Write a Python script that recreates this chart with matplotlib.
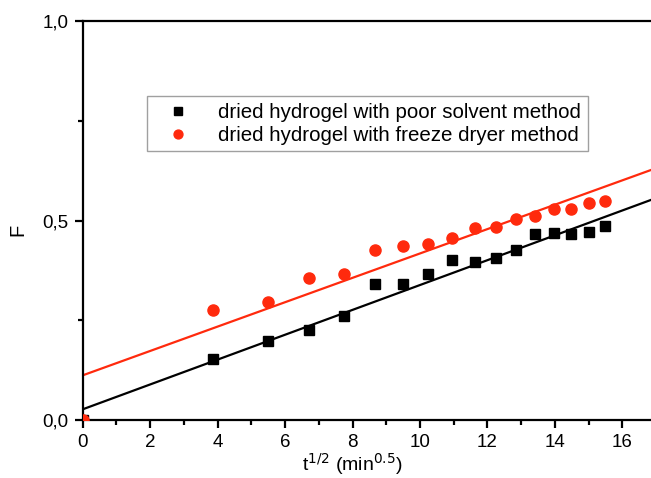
import numpy as np
import matplotlib
matplotlib.use("Agg")
import matplotlib.pyplot as plt
from matplotlib.ticker import MultipleLocator, FuncFormatter

plt.rcParams['font.family'] = ['Liberation Sans', 'DejaVu Sans']

# data (t^1/2 in min^0.5, fraction released F)
x_vals = [0.0, 3.87, 5.48, 6.71, 7.75, 8.66, 9.49, 10.25, 10.95, 11.62, 12.25,
          12.85, 13.42, 13.96, 14.49, 15.0, 15.49]
poor_solvent = [0.0, 0.153, 0.198, 0.225, 0.261, 0.34, 0.34, 0.367, 0.401, 0.397, 0.407,
                0.427, 0.465, 0.468, 0.466, 0.471, 0.485]
freeze_dryer = [0.0, 0.277, 0.297, 0.355, 0.365, 0.427, 0.435, 0.442, 0.455, 0.48, 0.483,
                0.505, 0.512, 0.53, 0.53, 0.545, 0.548]
# fitted lines (intercept, slope)
poor_fit = [0.0275, 0.0311]
freeze_fit = [0.1125, 0.0305]

labels = ["dried hydrogel with poor solvent method",
          "dried hydrogel with freeze dryer method"]

fig = plt.figure(figsize=(6.51, 4.78), dpi=100)
ax = fig.add_axes([0.127, 0.1207, 0.873, 0.836])

xl = np.array([0, 17.5])
ax.plot(xl, poor_fit[0] + poor_fit[1] * xl, color='black', lw=1.6, zorder=2)
ax.plot(xl, freeze_fit[0] + freeze_fit[1] * xl, color='#ff2a0d', lw=1.6, zorder=2)

ax.plot(x_vals, poor_solvent, 's', color='black', ms=6.5, ls='none', label=labels[0], zorder=3)
ax.plot(x_vals, freeze_dryer, 'o', color='#ff2a0d', ms=8, ls='none', label=labels[1], zorder=3)

ax.set_xlim(0, 16.85)
ax.set_ylim(0, 1.0)
ax.spines['right'].set_visible(False)
for s in ['top', 'left', 'bottom']:
    ax.spines[s].set_linewidth(1.6)

ax.xaxis.set_major_locator(MultipleLocator(2))
ax.xaxis.set_minor_locator(MultipleLocator(1))
ax.yaxis.set_major_locator(MultipleLocator(0.5))
ax.yaxis.set_minor_locator(MultipleLocator(0.25))
ax.yaxis.set_major_formatter(FuncFormatter(lambda v, p: f"{v:.1f}".replace('.', ',')))
ax.tick_params(which='major', direction='out', length=6, width=1.6, labelsize=13.5, pad=4)
ax.tick_params(which='minor', direction='out', length=3.5, width=1.6)
ax.tick_params(top=False, right=False)

ax.set_ylabel("F", fontsize=14.5)
ax.yaxis.set_label_coords(-0.098, 0.476)
ax.set_xlabel("t$^{1/2}$ (min$^{0.5}$)", fontsize=14)
ax.xaxis.set_label_coords(0.474, -0.078)

leg = ax.legend(loc='upper left', bbox_to_anchor=(0.113, 0.811), fontsize=14.8,
                frameon=True, fancybox=False, edgecolor='#888888', markerscale=0.8,
                handlelength=2.4, handletextpad=0.75, borderpad=0.32, labelspacing=0.2,
                borderaxespad=0)
leg.get_frame().set_linewidth(1.0)

fig.savefig("out.png", dpi=100)
